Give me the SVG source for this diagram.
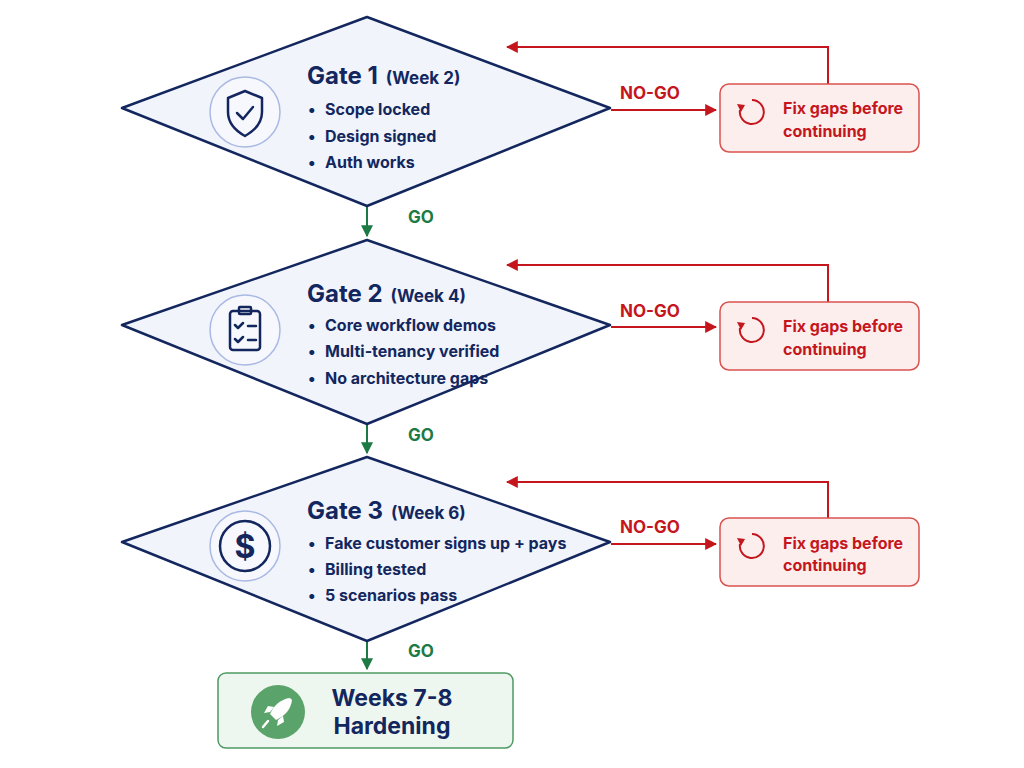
<svg xmlns="http://www.w3.org/2000/svg" width="1024" height="768" viewBox="0 0 1024 768">
<defs>
<style>
text{font-family:"Inter","Liberation Sans",sans-serif;font-weight:700}
.dia{fill:#f1f4fb;stroke:#13275e;stroke-width:2.5;stroke-linejoin:round}
.ic{fill:#f6f8fd;stroke:#a9b9e4;stroke-width:1.5}
.ig{fill:none;stroke:#13275e;stroke-width:2.5;stroke-linecap:round;stroke-linejoin:round}
.t{fill:#13275e;font-size:24px}
.w{fill:#13275e;font-size:17px}
.b{fill:#13275e;font-size:16px}
.fix{fill:#fdeeee;stroke:#d9534f;stroke-width:1.5}
.ft{fill:#c4161c;font-size:16px}
.red{stroke:#c4161c;stroke-width:2;fill:none}
.grn{stroke:#1d7a45;stroke-width:2;fill:none}
.go{fill:#1d7a45;font-size:17px}
.ng{fill:#c4161c;font-size:17px}
</style>
<marker id="ar" viewBox="0 0 10 10" refX="9" refY="5" markerWidth="6" markerHeight="6" orient="auto"><path d="M0,0L10,5L0,10z" fill="#c4161c"/></marker>
<marker id="ag" viewBox="0 0 10 10" refX="9" refY="5" markerWidth="6" markerHeight="6" orient="auto"><path d="M0,0L10,5L0,10z" fill="#1d7a45"/></marker>
</defs>
<rect width="1024" height="768" fill="#fff"/>
<g id="connectors">
<path class="grn" d="M367,207V236" marker-end="url(#ag)"/>
<path class="grn" d="M367,424V453" marker-end="url(#ag)"/>
<path class="grn" d="M367,641V669" marker-end="url(#ag)"/>
<text class="go" x="408" y="223">GO</text>
<text class="go" x="408" y="441">GO</text>
<text class="go" x="408" y="657">GO</text>
<path class="red" d="M611,110H716" marker-end="url(#ar)"/>
<path class="red" d="M611,327H716" marker-end="url(#ar)"/>
<path class="red" d="M611,544H716" marker-end="url(#ar)"/>
<text class="ng" x="620" y="99">NO-GO</text>
<text class="ng" x="620" y="317">NO-GO</text>
<text class="ng" x="620" y="533">NO-GO</text>
<path class="red" d="M828,84V47H507" marker-end="url(#ar)"/>
<path class="red" d="M828,302V265H507" marker-end="url(#ar)"/>
<path class="red" d="M828,518V482H507" marker-end="url(#ar)"/>
</g>
<g id="gate1">
<path class="dia" d="M367,17L610,108L367,206L122,108Z"/>
<circle class="ic" cx="245" cy="112" r="35"/>
<path class="ig" d="M245,91L262,98V112C262,124 254,131 245,136C236,131 228,124 228,112V98Z"/>
<path class="ig" d="M237,113L243,119L253,107"/>
<text x="307" y="84"><tspan class="t">Gate 1</tspan><tspan class="w" dx="8">(Week 2)</tspan></text>
<text class="b" x="308" y="115">•<tspan x="325">Scope locked</tspan></text>
<text class="b" x="308" y="142">•<tspan x="325">Design signed</tspan></text>
<text class="b" x="308" y="168">•<tspan x="325">Auth works</tspan></text>
</g>
<g id="gate2">
<path class="dia" d="M367,240L610,325L367,424L122,325Z"/>
<circle class="ic" cx="245" cy="330" r="35"/>
<rect class="ig" x="230" y="311" width="30" height="39" rx="3"/>
<rect class="ig" x="239" y="307" width="12" height="7" rx="1"/>
<path class="ig" d="M235,325l3,3l5,-5M248,326h8M235,339l3,3l5,-5M248,340h8"/>
<text x="307" y="302"><tspan class="t">Gate 2</tspan><tspan class="w" dx="8">(Week 4)</tspan></text>
<text class="b" x="308" y="331">•<tspan x="325">Core workflow demos</tspan></text>
<text class="b" x="308" y="357">•<tspan x="325">Multi-tenancy verified</tspan></text>
<text class="b" x="308" y="384">•<tspan x="325">No architecture gaps</tspan></text>
</g>
<g id="gate3">
<path class="dia" d="M367,457L610,542L367,641L122,542Z"/>
<circle class="ic" cx="245" cy="546" r="35"/>
<circle class="ig" cx="245" cy="546" r="25"/>
<text x="245" y="558" text-anchor="middle" style="fill:#13275e;font-size:32px">$</text>
<text x="307" y="519"><tspan class="t">Gate 3</tspan><tspan class="w" dx="8">(Week 6)</tspan></text>
<text class="b" x="308" y="549">•<tspan x="325">Fake customer signs up + pays</tspan></text>
<text class="b" x="308" y="575">•<tspan x="325">Billing tested</tspan></text>
<text class="b" x="308" y="601">•<tspan x="325">5 scenarios pass</tspan></text>
</g>
<g id="fix1">
<rect class="fix" x="720" y="84" width="199" height="68" rx="9"/>
<path class="red" d="M740,110A12,12 0 1 0 752,100" stroke-width="2.5"/>
<path d="M737,104l4,8l4,-7z" fill="#c4161c"/>
<text class="ft" x="783" y="114">Fix gaps before</text>
<text class="ft" x="783" y="137">continuing</text>
</g>
<g id="fix2">
<rect class="fix" x="720" y="302" width="199" height="68" rx="9"/>
<path class="red" d="M740,328A12,12 0 1 0 752,318" stroke-width="2.5"/>
<path d="M737,322l4,8l4,-7z" fill="#c4161c"/>
<text class="ft" x="783" y="332">Fix gaps before</text>
<text class="ft" x="783" y="355">continuing</text>
</g>
<g id="fix3">
<rect class="fix" x="720" y="518" width="199" height="68" rx="9"/>
<path class="red" d="M740,544A12,12 0 1 0 752,534" stroke-width="2.5"/>
<path d="M737,538l4,8l4,-7z" fill="#c4161c"/>
<text class="ft" x="783" y="549">Fix gaps before</text>
<text class="ft" x="783" y="571">continuing</text>
</g>
<g id="hardening">
<rect x="218" y="673" width="295" height="75" rx="8" fill="#edf7ef" stroke="#4e9a62" stroke-width="1.5"/>
<circle cx="278" cy="712" r="27" fill="#5aa36a"/>
<path d="M290,698C281,699 274,705 270,714L276,720C285,716 291,709 292,700Z" fill="#fff"/>
<path d="M270,712l-6,1l4,-7l6,1zM278,720l-1,6l7,-4l-1,-6z" fill="#fff"/>
<path d="M268,721l-5,6" stroke="#fff" stroke-width="2.5" stroke-linecap="round"/>
<text x="392" y="706" text-anchor="middle" style="fill:#13275e;font-size:23px">Weeks 7-8</text>
<text x="392" y="734" text-anchor="middle" style="fill:#13275e;font-size:23px">Hardening</text>
</g>
</svg>
